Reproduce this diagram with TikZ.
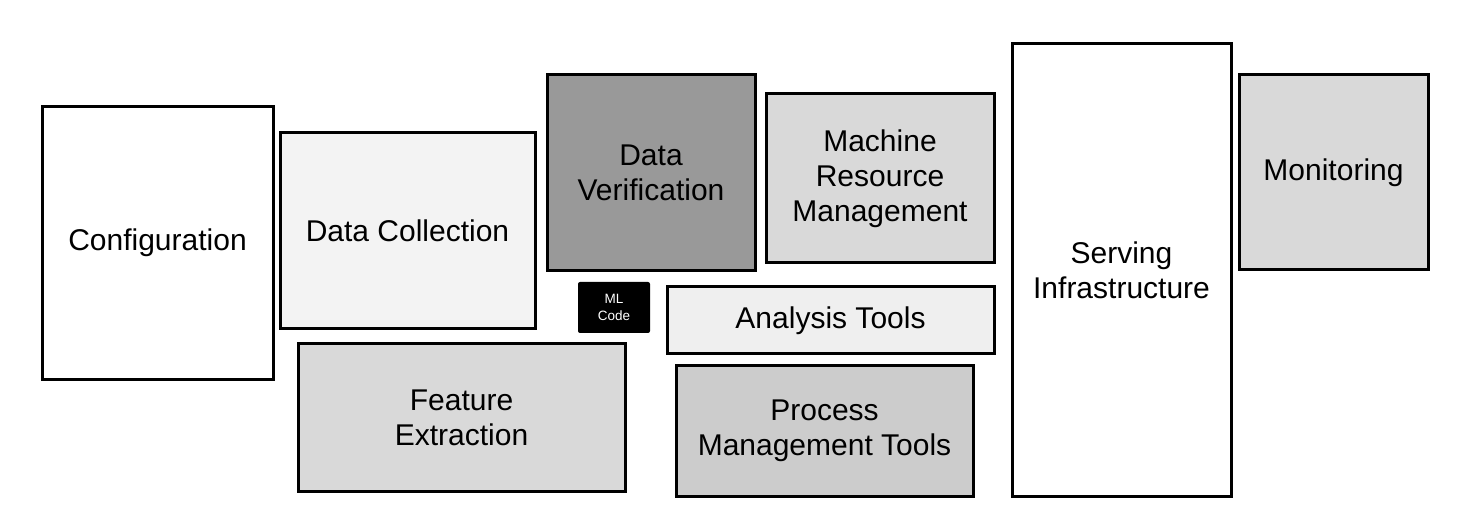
\documentclass[tikz,border=0pt]{standalone}
\usepackage{fontspec}
\setmainfont{Liberation Sans}
\definecolor{Pale}{HTML}{F3F3F3}
\definecolor{Paler}{HTML}{EFEFEF}
\definecolor{Light}{HTML}{D9D9D9}
\definecolor{Mid}{HTML}{CCCCCC}
\definecolor{Dark}{HTML}{999999}
% #1 name, #2-#5 left/top/right/bottom, #6 fill, #7 label
\newcommand{\component}[7]{%
  \node[part,fill=#6,minimum width={(#4-#2)*1pt},minimum height={(#5-#3)*1pt}]
    (#1) at ({(#2+#4)/2},{(#3+#5)/2}) {#7};
}
\begin{document}
\begin{tikzpicture}[x=1pt,y=-1pt,font=\fontsize{30}{35}\selectfont,
  part/.style={draw=black,line width=3pt,inner sep=0pt,align=center}]
\path[use as bounding box] (0,0) rectangle (1480,510);
\component{config}{42}{107}{273}{379}{white}{Configuration}
\component{collect}{280}{133}{535}{329}{Pale}{Data Collection}
\component{verify}{547}{75}{755}{271}{Dark}{Data\\Verification}
\component{resource}{766}{94}{994}{263}{Light}{Machine\\Resource\\Management}
\component{serving}{1012}{44}{1231}{496}{white}{Serving\\Infrastructure}
\component{monitor}{1239}{75}{1428}{270}{Light}{Monitoring}
\component{analysis}{667}{287}{994}{354}{Paler}{Analysis Tools}
\component{feature}{298}{344}{625}{491}{Light}{Feature\\Extraction}
\component{process}{676}{366}{973}{496}{Mid}{Process\\Management Tools}
% the small black box
\node[fill=black,text=white,rounded corners=2pt,inner sep=0pt,align=center,
  minimum width=72pt,minimum height=51pt,font=\fontsize{13.5}{17}\selectfont]
  (mlcode) at (614,307.5) {ML\\Code};
\end{tikzpicture}
\end{document}
